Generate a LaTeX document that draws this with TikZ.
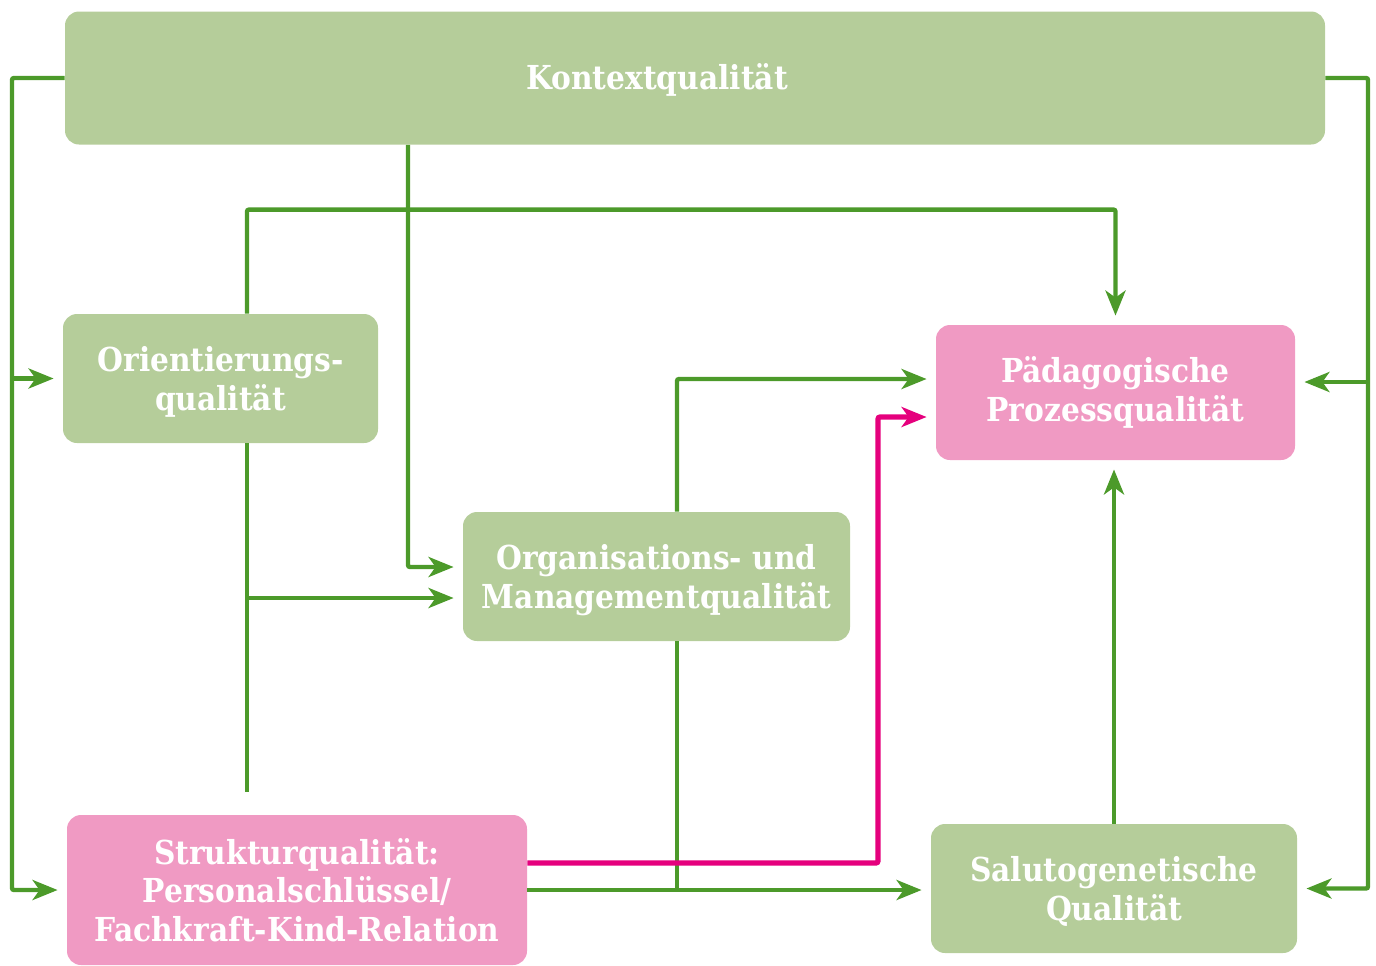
\documentclass[tikz,border=0pt]{standalone}
\usepackage{fontspec}
\setmainfont{DejaVu Serif}[FakeStretch=0.9]
\usetikzlibrary{arrows.meta,calc}
\definecolor{boxgreen}{HTML}{B5CD9A}
\definecolor{boxpink}{HTML}{F09AC3}
\definecolor{linegreen}{HTML}{4C9A2A}
\definecolor{linemag}{HTML}{E5007D}

\begin{document}
\begin{tikzpicture}[x=0.5pt,y=-0.5pt,
  box/.style={rounded corners=7pt,inner sep=0pt,text=white,align=center,
    font=\bfseries\fontsize{16.5}{19.3}\selectfont},
  greenbox/.style={box,fill=boxgreen},
  pinkbox/.style={box,fill=boxpink},
  link/.style={draw=linegreen,line width=2.2pt,rounded corners=1pt},
  arr/.style={link,-{Stealth[length=12.5pt,width=10pt,inset=3.5pt]},shorten >=4.5pt},
  magarr/.style={arr,draw=linemag,line width=2.6pt}]
  \useasboundingbox (0,0) rectangle (1376,965);
  % boxes
  \node[greenbox,minimum width=630pt,minimum height=66.5pt,
    label={[box,xshift=-19pt,yshift=-1pt]center:Kontextqualität}] (kontext) at (695,78) {};
  \node[greenbox,minimum width=157.5pt,minimum height=64.5pt,text depth=-2pt] (orient) at (220.5,378.5) {Orientierungs-\\qualität};
  \node[greenbox,minimum width=193.5pt,minimum height=64.5pt,text depth=-2pt] (organ) at (656.5,576.5) {Organisations- und\\Managementqualität};
  \node[pinkbox,minimum width=179.5pt,minimum height=67.5pt] (paed) at (1115.5,392.5) {Pädagogische\\Prozessqualität};
  \node[pinkbox,minimum width=230pt,minimum height=75pt] (struk) at (297,890) {Strukturqualität:\\Personalschlüssel/\\Fachkraft-Kind-Relation};
  \node[greenbox,minimum width=183pt,minimum height=64.5pt,text depth=-1pt] (saluto) at (1114,888.5) {Salutogenetische\\Qualität};
  % helper columns
  \coordinate (lbus) at (12,0);
  \coordinate (rbus) at (1368,0);
  \coordinate (kx) at (408,0);
  \coordinate (ox) at (247,0);
  \coordinate (mx) at (677,0);
  \coordinate (px) at (878,0);
  \coordinate (oa) at ($(organ.west)+(0,-9.5)$);
  \coordinate (ob) at ($(organ.west)+(0,21.5)$);
  \coordinate (pa) at ($(paed.west)+(0,-13.5)$);
  \coordinate (pm) at ($(paed.west)+(0,24.5)$);
  \coordinate (pr) at ($(paed.east)+(0,-10.5)$);
  \coordinate (sm) at ($(struk.east)+(0,-27)$);
  % Kontext outer loops
  \draw[arr] (kontext.west) -- (kontext.west -| lbus) |- (struk.west);
  \draw[arr] (orient.west -| lbus) -- (orient.west);
  \draw[arr] (kontext.east) -- (kontext.east -| rbus) |- (saluto.east);
  \draw[arr] (pr -| rbus) -- (pr);
  \draw[arr] (kontext.south -| kx) |- (oa);
  % Orientierung
  \draw[arr] (orient.north -| ox) -- ++(0,-104) -| (paed.north);
  \draw[link] (orient.south -| ox) -- ($(struk.north -| ox)+(0,-23)$);
  \draw[arr] (ob -| ox) -- (ob);
  % Organisation
  \draw[arr] (organ.north -| mx) |- (pa);
  \draw[link] (organ.south -| mx) -- (struk.east -| mx);
  % Struktur
  \draw[arr] (struk.east) -- (struk.east -| saluto.west);
  \draw[magarr] (sm) -| (pm -| px) -- (pm);
  % Salutogenese
  \draw[arr] (saluto.north) -- (saluto.north |- paed.south);
\end{tikzpicture}
\end{document}
